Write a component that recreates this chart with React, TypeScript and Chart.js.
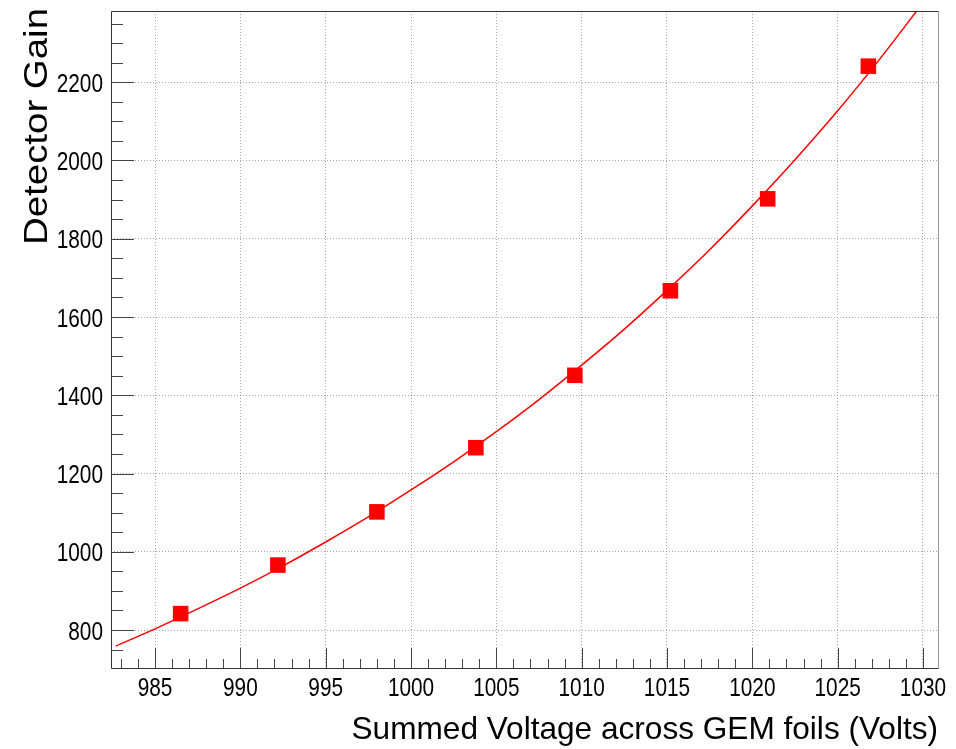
import React, { useEffect, useRef } from "react";
import { Chart, registerables } from "chart.js";

Chart.register(...registerables);

// Measured points
const voltage = [986.5, 992.2, 998.0, 1003.8, 1009.6, 1015.2, 1020.9, 1026.8];
const gain = [842, 966, 1102, 1266, 1451, 1667, 1902, 2241];

// Fit curve
const fitVoltage = [982.7, 985, 987.5, 990, 992.5, 995, 997.5, 1000, 1002.5, 1005, 1007.5, 1010, 1012.5, 1015, 1017.5, 1020, 1022.5, 1025, 1027.5, 1030, 1030.3];
const fitGain = [759, 803, 854, 907, 964, 1025, 1089, 1158, 1230, 1307, 1389, 1477, 1569, 1668, 1772, 1884, 2002, 2127, 2261, 2403, 2420];

const xTitle = "Summed Voltage across GEM foils (Volts)";
const yTitle = "Detector Gain";

const X_MIN = 982.42;
const X_MAX = 1030.88;
const Y_MIN = 703;
const Y_MAX = 2382;

const FONT = "'Liberation Sans', Arial, Helvetica, sans-serif";

const rootStylePlugin = {
  id: "rootStyle",
  afterDraw(chart: any) {
    const { ctx, chartArea } = chart;
    const xs = chart.scales.x;
    const ys = chart.scales.y;
    const { left, right, top, bottom } = chartArea;
    ctx.save();
    // tick marks inside the frame
    ctx.strokeStyle = "#444";
    ctx.lineWidth = 1;
    ctx.beginPath();
    for (let v = Math.ceil(xs.min); v <= xs.max; v += 1) {
      const px = Math.round(xs.getPixelForValue(v)) + 0.5;
      const len = v % 5 === 0 ? 20 : 9;
      ctx.moveTo(px, bottom);
      ctx.lineTo(px, bottom - len);
    }
    for (let v = Math.ceil(ys.min / 50) * 50; v <= ys.max; v += 50) {
      const py = Math.round(ys.getPixelForValue(v)) + 0.5;
      const len = v % 200 === 0 ? 23 : 12;
      ctx.moveTo(left, py);
      ctx.lineTo(left + len, py);
    }
    ctx.stroke();
    // frame
    ctx.strokeStyle = "#333";
    ctx.beginPath();
    ctx.moveTo(right + 0.5, top + 0.5);
    ctx.lineTo(left + 0.5, top + 0.5);
    ctx.lineTo(left + 0.5, bottom + 0.5);
    ctx.lineTo(right + 0.5, bottom + 0.5);
    ctx.stroke();
    ctx.strokeStyle = "#999";
    ctx.beginPath();
    ctx.moveTo(right + 0.5, top + 0.5);
    ctx.lineTo(right + 0.5, bottom + 0.5);
    ctx.stroke();

    // tick labels (narrow Helvetica look)
    ctx.fillStyle = "#000";
    ctx.font = `26px ${FONT}`;
    ctx.textBaseline = "alphabetic";
    const narrow = 0.8;
    ctx.textAlign = "center";
    for (const t of xs.ticks) {
      const px = xs.getPixelForValue(t.value);
      ctx.save();
      ctx.translate(px, 696);
      ctx.scale(narrow, 1);
      ctx.fillText(String(t.value), 0, 0);
      ctx.restore();
    }
    ctx.textAlign = "right";
    for (const t of ys.ticks) {
      const py = ys.getPixelForValue(t.value);
      ctx.save();
      ctx.translate(103, py + 9.5);
      ctx.scale(narrow, 1);
      ctx.fillText(String(t.value), 0, 0);
      ctx.restore();
    }

    // axis titles
    ctx.font = `31.6px ${FONT}`;
    ctx.textAlign = "right";
    ctx.fillText(xTitle, right, 739);

    ctx.font = `33px ${FONT}`;
    const w = ctx.measureText(yTitle).width;
    const sx = 237 / w;
    ctx.translate(47, 8);
    ctx.rotate(-Math.PI / 2);
    ctx.scale(sx, 1);
    ctx.textAlign = "right";
    ctx.fillText(yTitle, 0, 0);
    ctx.restore();
  },
};

export default function App() {
  const ref = useRef<HTMLCanvasElement>(null);

  useEffect(() => {
    if (!ref.current) return;
    const fitData = fitVoltage.map((v, i) => ({ x: v, y: fitGain[i] }));
    const ptData = voltage.map((v, i) => ({ x: v, y: gain[i] }));
    const chart = new Chart(ref.current, {
      type: "scatter",
      data: {
        datasets: [
          {
            label: "fit",
            data: fitData,
            showLine: true,
            borderColor: "#ff0000",
            borderWidth: 1.5,
            pointRadius: 0,
            cubicInterpolationMode: "monotone",
            fill: false,
          },
          {
            label: "data",
            data: ptData,
            showLine: false,
            pointStyle: "rect",
            pointRadius: 11,
            pointBackgroundColor: "#ff0000",
            pointBorderColor: "#ff0000",
            pointBorderWidth: 0,
          },
        ],
      },
      options: {
        responsive: false,
        animation: false,
        layout: { padding: { left: 0, top: 8, right: 18, bottom: 0 } },
        plugins: { legend: { display: false }, tooltip: { enabled: false } },
        scales: {
          x: {
            type: "linear",
            min: X_MIN,
            max: X_MAX,
            ticks: {
              stepSize: 5,
              includeBounds: false,
              display: false,
            },
            grid: { color: "rgba(110,110,110,0.6)", drawTicks: false },
            border: { display: false, dash: [1, 2] },
            afterFit: (s: any) => {
              s.height = 81;
              s.paddingLeft = 0;
              s.paddingRight = 0;
            },
          },
          y: {
            type: "linear",
            min: Y_MIN,
            max: Y_MAX,
            ticks: {
              stepSize: 200,
              includeBounds: false,
              display: false,
            },
            grid: { color: "rgba(110,110,110,0.6)", drawTicks: false },
            border: { display: false, dash: [1, 2] },
            afterFit: (s: any) => {
              s.width = 111;
              s.paddingTop = 0;
              s.paddingBottom = 0;
            },
          },
        },
      },
      plugins: [rootStylePlugin],
    });
    return () => chart.destroy();
  }, []);

  return (
    <div style={{ position: "absolute", left: 0, top: 0, width: 956, height: 749, background: "#fff" }}>
      <canvas ref={ref} width={956} height={749} style={{ display: "block" }} />
    </div>
  );
}
